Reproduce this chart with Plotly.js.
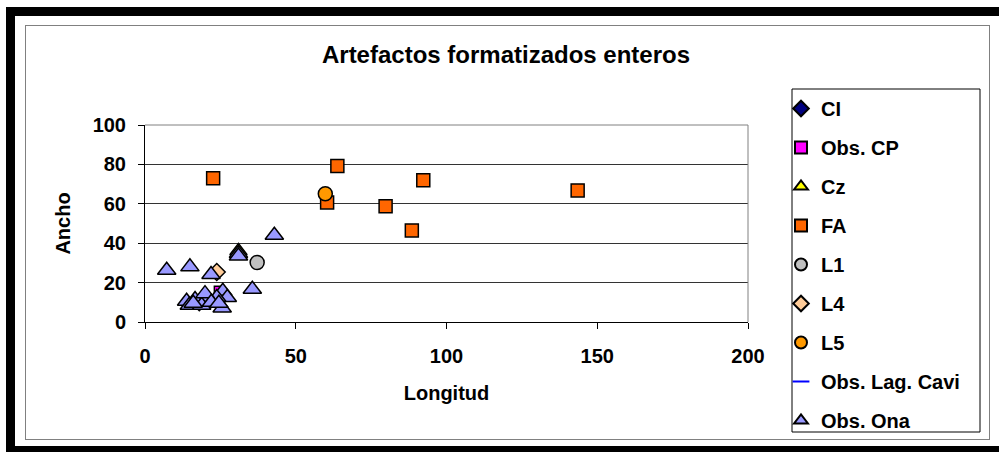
<!DOCTYPE html>
<html>
<head>
<meta charset="utf-8">
<script src="https://cdn.plot.ly/plotly-3.0.1.min.js"></script>
<style>
  html, body { margin:0; padding:0; background:#fff; }
  #wrap { position:relative; width:999px; height:452px; overflow:hidden; background:#fff; }
  #chart { position:absolute; left:0; top:0; width:999px; height:452px; }
  #outer { position:absolute; left:6px; top:7px; width:1010px; height:430px; border:9px solid #000; pointer-events:none; }
  #inner { position:absolute; left:25px; top:25px; width:963px; height:413px; border:1px solid #808080; pointer-events:none; }
</style>
</head>
<body>
<div id="wrap">
  <div id="inner"></div>
  <div id="chart"></div>
  <div id="outer"></div>
</div>
<script>
// ---- data (Longitud, Ancho) ----
const seriesNames = ["CI", "Obs. CP", "Cz", "FA", "L1", "L4", "L5", "Obs. Lag. Cavi", "Obs. Ona"];

const ciX = [18];
const ciY = [10];

const cpX = [24];
const cpY = [16.6];

const czX = [31];
const czY = [36];

const faX = [22.6, 63.8, 92.3, 143.5, 60.4, 79.8, 88.5];
const faY = [73, 79.2, 71.9, 66.8, 60.7, 58.8, 46.5];

const l1X = [37.2];
const l1Y = [30.2];

const l4X = [23.8];
const l4Y = [25.4];

const l5X = [59.8];
const l5Y = [65.1];

const cavX = [20];
const cavY = [10];

const onaX = [7.2, 14.9, 42.9, 31, 31, 21.9, 35.6, 25.8, 13.8, 19.3, 16.6, 25.6, 27.3, 23.8, 14.7, 18.8, 19.9, 16, 22, 24.5];
const onaY = [26.3, 28, 44, 34.8, 33.5, 24.1, 16.6, 15.6, 10.5, 12.4, 11.4, 7.1, 12.4, 12.4, 8.5, 8.5, 14.4, 9.5, 10, 9.5];

const xTicks = [0, 50, 100, 150, 200];
const yTicks = [0, 20, 40, 60, 80, 100];

// ---- styling ----
const FONT = 'Arial, "Liberation Sans", sans-serif';
const styles = [
  {symbol:'diamond', color:'#000080', size:13},
  {symbol:'square', color:'#FF00FF', size:6},
  {symbol:'triangle-up', color:'#FFFF00', size:15},
  {symbol:'square', color:'#FF6600', size:13},
  {symbol:'circle', color:'#C0C0C0', size:14},
  {symbol:'diamond', color:'#FFCC99', size:13},
  {symbol:'circle', color:'#FF9900', size:14},
  {symbol:'line-ew', color:'#0000FF', size:8},
  {symbol:'triangle-up', color:'#9999FF', size:16}
];
const xs = [ciX, cpX, czX, faX, l1X, l4X, l5X, cavX, onaX];
const ys = [ciY, cpY, czY, faY, l1Y, l4Y, l5Y, cavY, onaY];

const traces = seriesNames.map((name, i) => {
  const s = styles[i];
  const isLine = s.symbol === 'line-ew';
  return {
    type: 'scatter', mode: 'markers', name: name,
    x: xs[i], y: ys[i],
    legendgroup: 'g' + i,
    marker: {
      symbol: s.symbol, size: s.size, color: s.color,
      line: {color: isLine ? s.color : '#000', width: isLine ? 3 : 1.5}
    },
    hoverinfo: 'x+y+name'
  };
});

const L = 145, R = 748, T = 125, B = 322;
const pw = R - L, ph = B - T;
const px2x = p => (p - L) / pw;
const px2y = p => (B - p) / ph;

const layout = {
  width: 999, height: 452,
  margin: {l: L, r: 999 - R, t: T, b: 452 - B, pad: 0},
  paper_bgcolor: 'rgba(0,0,0,0)',
  plot_bgcolor: '#fff',
  showlegend: true,
  font: {family: FONT, color: '#000', size: 20, weight: 'bold'},
  title: {
    text: 'Artefactos formatizados enteros',
    font: {family: FONT, size: 24, color: '#000', weight: 'bold'},
    x: 506 / 999, xanchor: 'center', xref: 'container',
    y: 1 - 55 / 452, yanchor: 'middle', yref: 'container'
  },
  xaxis: {
    range: [0, 200], tickvals: xTicks, ticktext: xTicks.map(String),
    ticks: 'outside', ticklen: 6, tickwidth: 1, tickcolor: '#000',
    showline: true, linecolor: '#000', linewidth: 1,
    showgrid: false, zeroline: false, fixedrange: true,
    tickfont: {family: FONT, size: 20, color: '#000', weight: 'bold'},
    ticklabelstandoff: 10,
    title: {text: 'Longitud', standoff: 19, font: {family: FONT, size: 20, color: '#000', weight: 'bold'}}
  },
  yaxis: {
    range: [0, 100], tickvals: yTicks, ticktext: yTicks.map(String),
    ticks: 'outside', ticklen: 6, tickwidth: 1, tickcolor: '#000',
    showline: true, linecolor: '#000', linewidth: 1,
    showgrid: true, gridcolor: '#333', gridwidth: 1,
    zeroline: false, fixedrange: true,
    tickfont: {family: FONT, size: 20, color: '#000', weight: 'bold'},
    ticklabelstandoff: 8,
    title: {text: 'Ancho', standoff: 16, font: {family: FONT, size: 20, color: '#000', weight: 'bold'}}
  },
  shapes: [
    {type: 'line', xref: 'paper', yref: 'paper', x0: 1, x1: 1, y0: 0, y1: 1, line: {color: '#808080', width: 1}},
    {type: 'line', xref: 'paper', yref: 'paper', x0: 0, x1: 1, y0: 1, y1: 1, line: {color: '#808080', width: 1}},
    {type: 'rect', xref: 'paper', yref: 'paper', layer: 'above',
     x0: px2x(792), x1: px2x(980), y0: px2y(432), y1: px2y(89),
     fillcolor: '#fff', line: {color: '#000', width: 1}}
  ],
  legend: {
    x: px2x(781), xanchor: 'left',
    y: px2y(89), yanchor: 'top',
    bgcolor: 'rgba(0,0,0,0)', borderwidth: 0,
    maxheight: 420,
    font: {family: FONT, size: 20, color: '#000', weight: 'bold'},
    traceorder: 'grouped', tracegroupgap: 10,
    itemsizing: 'constant'
  }
};

Plotly.newPlot('chart', traces, layout, {displayModeBar: false, staticPlot: true});
</script>
</body>
</html>
